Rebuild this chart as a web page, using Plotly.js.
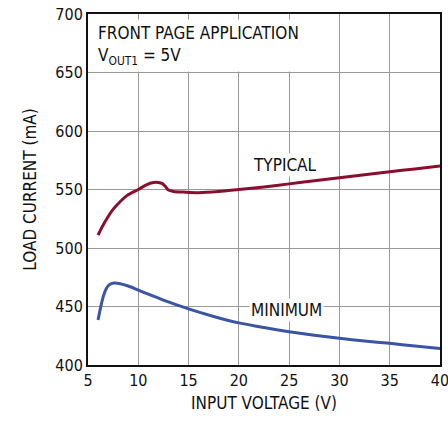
<!DOCTYPE html>
<html><head><meta charset="utf-8">
<script src="https://cdn.plot.ly/plotly-3.0.1.min.js"></script>
<style>html,body{margin:0;padding:0;background:#fff;}#chart{width:448px;height:424px;}</style>
</head><body><div id="chart"></div>
<script>
const typicalV = [6.0, 6.4, 6.9, 7.4, 7.9, 8.9, 10.0, 10.8, 11.5, 12.0, 12.4, 12.7, 13.0, 13.5, 14.5, 16.0, 18.0, 20.0, 22.5, 25.0, 27.5, 30.0, 32.5, 35.0, 37.5, 40.0];
const typicalI = [511, 518, 525.5, 532, 537, 545, 550, 554, 556, 556, 555, 552.5, 549.5, 548.3, 547.8, 547.3, 548.3, 550, 552.2, 554.8, 557.4, 560, 562.6, 565.2, 567.6, 570.2];
const minimumV = [6.0, 6.25, 6.5, 6.8, 7.1, 7.6, 8.2, 9.0, 10.0, 11.0, 12.5, 15.0, 17.5, 20.0, 22.5, 25.0, 27.5, 30.0, 32.5, 35.0, 37.5, 40.0];
const minimumI = [438.5, 449, 458, 465, 468.5, 470, 469.5, 467.5, 464, 460.5, 455.5, 448, 441.5, 436, 432, 428.5, 425.5, 422.8, 420.5, 418.5, 416.3, 414.2];
const xTicks = [5, 10, 15, 20, 25, 30, 35, 40];
const yTicks = [400, 450, 500, 550, 600, 650, 700];

const FONT = '"Liberation Sans Narrow", "DejaVu Sans Condensed", "Arial Narrow", sans-serif';

const traces = [
  {x: typicalV, y: typicalI, mode: 'lines', line: {color: '#8a0f2f', width: 3, shape: 'spline', smoothing: 0.8}, hoverinfo: 'skip'},
  {x: minimumV, y: minimumI, mode: 'lines', line: {color: '#3a55a4', width: 3, shape: 'spline', smoothing: 0.8}, hoverinfo: 'skip'}
];

const layout = {
  width: 448, height: 424,
  margin: {l: 88, r: 8, t: 14, b: 59},
  paper_bgcolor: '#fff', plot_bgcolor: '#fff',
  showlegend: false,
  font: {family: FONT, size: 16, color: '#111'},
  xaxis: {
    range: [5, 40], tickvals: xTicks, ticktext: xTicks.map(String),
    showgrid: true, gridcolor: '#999', gridwidth: 1,
    showline: true, linecolor: '#111', linewidth: 2, mirror: true,
    ticks: '', zeroline: false, ticklabeloverflow: 'allow',
    tickfont: {family: FONT, size: 16, color: '#111'},
    title: {text: 'INPUT VOLTAGE (V)', font: {family: FONT, size: 17, color: '#111'}, standoff: 8}
  },
  yaxis: {
    range: [400, 700], tickvals: yTicks, ticktext: yTicks.map(String),
    showgrid: true, gridcolor: '#999', gridwidth: 1,
    showline: true, linecolor: '#111', linewidth: 2, mirror: true,
    ticks: '', zeroline: false, ticklabeloverflow: 'allow',
    tickfont: {family: FONT, size: 16, color: '#111'},
    title: {text: 'LOAD CURRENT (mA)', font: {family: FONT, size: 17, color: '#111'}, standoff: 14}
  },
  annotations: [
    {xref: 'paper', yref: 'paper', x: 0.017, y: 0.985, xanchor: 'left', yanchor: 'top', align: 'left',
     text: 'FRONT PAGE APPLICATION<br>V<sub>OUT1</sub> = 5V', showarrow: false,
     bgcolor: '#fff', borderpad: 3, font: {family: FONT, size: 17, color: '#111'}},
    {x: 24.6, y: 571, text: 'TYPICAL', showarrow: false, bgcolor: '#fff', borderpad: 1,
     font: {family: FONT, size: 17, color: '#111'}},
    {x: 24.7, y: 447, text: 'MINIMUM', showarrow: false, bgcolor: '#fff', borderpad: 1,
     font: {family: FONT, size: 17, color: '#111'}}
  ]
};

Plotly.newPlot('chart', traces, layout, {displayModeBar: false, staticPlot: true});
</script></body></html>
